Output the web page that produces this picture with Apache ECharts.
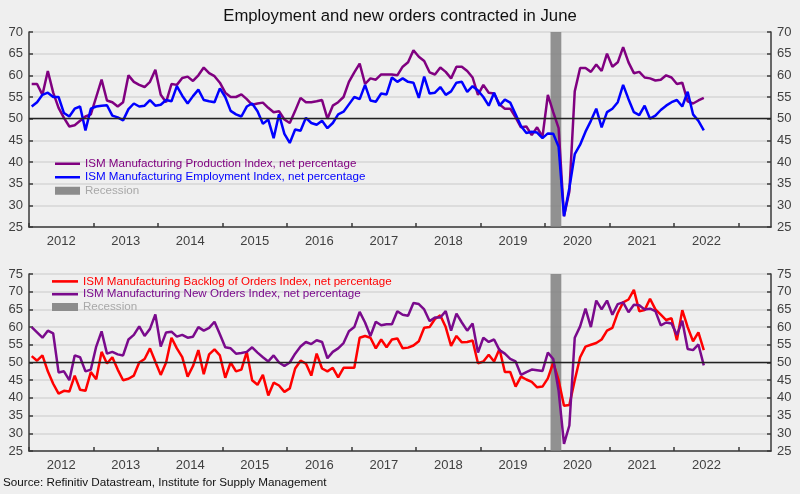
<!DOCTYPE html>
<html><head><meta charset="utf-8">
<script src="https://cdn.jsdelivr.net/npm/echarts@6/dist/echarts.min.js"></script>
<style>html,body{margin:0;padding:0;background:#efefef}#c{width:800px;height:494px}</style>
</head><body><div id="c"></div>
<script>
// Monthly values, Jan 2012 .. Jun 2022
const startYear = 2012;
const yearLabels = ['2012','2013','2014','2015','2016','2017','2018','2019','2020','2021','2022'];
const production = [58.0,58.0,55.5,61.0,56.0,52.5,50.2,48.2,48.5,49.5,50.5,51.0,
 55.0,59.0,54.2,53.8,52.8,53.8,60.0,58.5,57.8,57.3,58.5,61.3,
 55.5,53.8,58.0,57.8,59.4,59.7,58.7,60.0,61.8,60.5,59.8,58.3,
 56.0,55.0,55.0,55.6,54.5,53.2,53.5,53.7,52.5,51.5,51.7,49.8,
 49.0,51.8,54.8,53.8,53.8,54.0,54.3,50.0,53.0,53.8,55.0,58.5,
 60.7,62.7,58.0,59.3,59.0,60.2,60.2,60.2,60.0,62.0,63.0,65.8,
 64.3,63.3,60.7,60.2,61.8,60.8,59.3,62.0,62.0,61.0,59.5,55.5,
 57.8,56.0,55.8,53.3,52.3,52.3,50.3,48.0,48.2,46.2,48.0,45.8,
 55.5,51.5,47.8,27.5,33.2,56.3,61.7,61.7,60.8,62.5,61.0,65.0,
 62.0,63.0,66.5,63.0,60.5,60.8,59.5,59.3,58.8,59.0,60.0,59.5,
 58.0,58.3,54.0,53.5,54.2,54.8];
const employment = [52.8,53.8,55.5,56.0,55.0,55.0,51.3,50.5,52.3,52.8,47.3,52.3,
 52.8,53.0,53.1,50.7,50.3,49.6,52.2,53.5,52.8,53.0,54.3,53.0,
 53.2,54.3,54.0,57.5,55.3,53.5,55.2,56.7,54.3,54.0,53.8,57.0,
 55.0,51.8,51.0,50.5,52.8,53.5,51.7,48.8,49.8,45.5,51.0,46.5,
 44.4,47.5,47.2,50.2,49.0,48.6,49.5,47.8,49.0,51.0,51.6,53.3,
 55.0,54.5,57.8,54.2,53.9,55.8,55.6,59.5,58.5,59.3,58.5,58.3,
 54.8,59.7,55.8,56.0,57.3,55.5,56.3,58.3,58.5,56.2,57.5,56.5,
 55.0,53.0,56.0,53.0,54.4,53.7,51.0,48.3,46.7,47.0,46.8,45.5,
 46.6,46.5,43.5,27.5,34.0,41.8,44.0,47.0,49.5,52.3,48.0,51.5,
 52.3,53.8,57.8,54.5,51.5,50.8,53.0,50.0,50.7,52.0,53.0,53.8,
 54.3,52.8,56.2,51.0,49.5,47.3];
const backlog = [51.8,50.5,52.0,47.5,44.0,41.2,42.0,41.8,46.3,42.3,42.0,47.3,
 45.3,53.0,49.7,51.5,48.0,45.0,45.4,46.3,50.0,51.0,54.0,50.2,
 46.5,50.0,57.0,54.0,51.5,46.0,49.0,53.5,46.7,52.3,53.7,52.0,
 45.7,50.0,47.5,48.0,53.0,45.0,43.7,46.5,40.7,44.3,43.5,41.7,
 42.7,48.3,50.5,49.7,46.3,52.5,48.3,47.5,48.5,45.8,48.5,48.5,
 48.5,57.0,57.5,57.0,54.0,56.5,54.3,56.5,56.8,54.0,54.2,54.8,
 56.0,59.8,60.0,62.3,63.3,60.0,54.7,57.5,55.7,55.8,56.2,49.8,
 50.3,52.2,50.3,53.8,47.3,47.3,43.2,46.0,45.2,44.5,43.0,43.2,
 45.5,50.0,45.0,37.8,38.0,45.0,51.5,54.5,55.0,55.5,56.5,59.0,
 59.8,64.0,67.0,67.8,70.5,64.5,64.8,68.0,65.0,63.5,62.0,62.5,
 56.3,64.8,60.0,56.0,58.5,53.5];
const newOrders = [60.0,58.5,57.0,59.0,58.2,47.2,47.5,45.0,52.0,51.5,47.5,48.0,
 54.5,58.8,52.5,53.0,52.3,52.0,56.5,57.8,60.2,57.5,59.5,63.6,
 54.5,58.5,58.7,57.3,57.8,57.0,57.3,60.0,59.0,59.8,61.5,58.0,
 54.3,54.0,52.5,52.7,53.0,54.3,52.8,51.5,50.3,52.0,50.0,49.0,
 50.0,52.5,54.5,55.8,55.2,56.3,55.8,51.2,53.0,54.0,55.5,58.8,
 60.0,64.3,61.3,57.5,61.5,60.5,60.8,60.8,64.5,63.5,63.2,66.8,
 66.5,65.0,61.7,62.7,62.7,64.5,59.0,63.8,61.3,59.0,61.0,52.8,
 57.0,55.8,56.5,53.5,52.5,51.0,50.3,46.5,47.3,48.0,47.8,47.6,
 52.8,51.0,42.0,27.0,32.2,57.0,60.2,65.2,60.0,67.5,65.0,67.5,
 63.5,66.5,67.0,64.2,66.3,66.2,65.0,65.2,64.5,60.5,61.3,61.0,
 57.8,61.8,53.8,53.5,55.1,49.2];
const recessionMonths = [97, 99]; // Feb 2020 .. end of Mar 2020 (months since Jan 2012)
const topTicks = [25,30,35,40,45,50,55,60,65,70];
const bottomTicks = [25,30,35,40,45,50,55,60,65,70,75];

const toXY = arr => arr.map((v, i) => [i + 0.5, v]);
const yearTicks = yearLabels.map((y, k) => k * 12).concat([yearLabels.length * 12]);
const yearMids = yearLabels.map((y, k) => k * 12 + 6);

const font = "'Liberation Sans', Arial, sans-serif";
const axisCol = '#3a3a3a';
const labelCol = '#404040';
const lineIcon = 'path://M0,0 H26 V2.6 H0 Z';

function xAxis(gi) {
  return {
    type: 'value', gridIndex: gi, min: 0, max: 138,
    axisLine: {show: true, lineStyle: {color: axisCol, width: 1.5}},
    axisTick: {show: true, inside: true, length: 4, customValues: yearTicks, lineStyle: {color: axisCol, width: 1.5}},
    axisLabel: {show: true, customValues: yearMids, formatter: v => String(startYear + (v - 6) / 12),
      color: labelCol, fontFamily: font, fontSize: 13, margin: 8},
    splitLine: {show: false}
  };
}
function yAxis(gi, ticks, pos) {
  return {
    type: 'value', gridIndex: gi, position: pos, min: ticks[0], max: ticks[ticks.length - 1], interval: 5,
    axisLine: {show: true, lineStyle: {color: axisCol, width: 1.5}},
    axisTick: {show: true, inside: true, length: 4, lineStyle: {color: axisCol, width: 1.5}},
    axisLabel: {color: labelCol, fontFamily: font, fontSize: 13, margin: 6},
    splitLine: {show: pos === 'left', lineStyle: {color: '#d6d6d6', width: 1.5}}
  };
}
const recessionArea = {
  silent: true,
  itemStyle: {color: 'rgba(128,128,128,0.85)'},
  data: [[{xAxis: recessionMonths[0]}, {xAxis: recessionMonths[1]}]]
};
const fiftyLine = {
  silent: true, symbol: 'none', label: {show: false},
  lineStyle: {color: '#222', width: 1.3, type: 'solid'},
  data: [{yAxis: 50}]
};
function line(name, data, color, xi, yi, extra) {
  return Object.assign({
    name, type: 'line', data: toXY(data), xAxisIndex: xi, yAxisIndex: yi,
    showSymbol: false, symbol: 'none', animation: false,
    lineStyle: {color, width: 2.5}, itemStyle: {color}, z: 3
  }, extra || {});
}

const chart = echarts.init(document.getElementById('c'), null, {renderer: 'canvas'});
chart.setOption({
  backgroundColor: '#efefef',
  animation: false,
  title: {text: 'Employment and new orders contracted in June', left: 'center', top: 3,
    textStyle: {fontFamily: font, fontSize: 16.7, fontWeight: 'normal', color: '#111'}},
  grid: [
    {left: 29, right: 29, top: 32, height: 195},
    {left: 29, right: 29, top: 274, height: 177}
  ],
  xAxis: [xAxis(0), xAxis(1)],
  yAxis: [yAxis(0, topTicks, 'left'), yAxis(0, topTicks, 'right'), yAxis(1, bottomTicks, 'left'), yAxis(1, bottomTicks, 'right')],
  legend: [
    {left: 50, top: 152, orient: 'vertical', itemWidth: 25, itemHeight: 8, itemGap: 0,
      textStyle: {fontFamily: font, fontSize: 11.6, lineHeight: 13.5},
      data: [
        {name: 'ISM Manufacturing Production Index, net percentage', icon: lineIcon, textStyle: {color: '#800080'}},
        {name: 'ISM Manufacturing Employment Index, net percentage', icon: lineIcon, textStyle: {color: '#0000ff'}},
        {name: 'Recession', icon: 'rect', itemStyle: {color: '#8c8c8c'}, textStyle: {color: '#a8a8a8'}}
      ]},
    {left: 47, top: 270, orient: 'vertical', itemWidth: 26, itemHeight: 8, itemGap: 0,
      textStyle: {fontFamily: font, fontSize: 11.6, lineHeight: 12.8},
      data: [
        {name: 'ISM Manufacturing Backlog of Orders Index, net percentage', icon: lineIcon, textStyle: {color: '#ff0000'}},
        {name: 'ISM Manufacturing New Orders Index, net percentage', icon: lineIcon, textStyle: {color: '#7a0a8c'}},
        {name: 'Recession ', icon: 'rect', itemStyle: {color: '#8c8c8c'}, textStyle: {color: '#a8a8a8'}}
      ]}
  ],
  graphic: [{type: 'text', left: 3, top: 477,
    style: {text: 'Source: Refinitiv Datastream, Institute for Supply Management', font: '11.7px ' + font, fill: '#111'}}],
  series: [
    line('ISM Manufacturing Production Index, net percentage', production, '#800080', 0, 0,
      {markArea: recessionArea, markLine: fiftyLine}),
    line('ISM Manufacturing Employment Index, net percentage', employment, '#0000ff', 0, 0),
    {name: 'Recession', type: 'bar', data: [], xAxisIndex: 0, yAxisIndex: 0, itemStyle: {color: '#8c8c8c'}},
    line('ISM Manufacturing Backlog of Orders Index, net percentage', backlog, '#ff0000', 1, 2,
      {markArea: recessionArea, markLine: fiftyLine}),
    line('ISM Manufacturing New Orders Index, net percentage', newOrders, '#7a0a8c', 1, 2, {z: 4}),
    {name: 'Recession ', type: 'bar', data: [], xAxisIndex: 1, yAxisIndex: 2, itemStyle: {color: '#8c8c8c'}}
  ]
});
</script></body></html>
